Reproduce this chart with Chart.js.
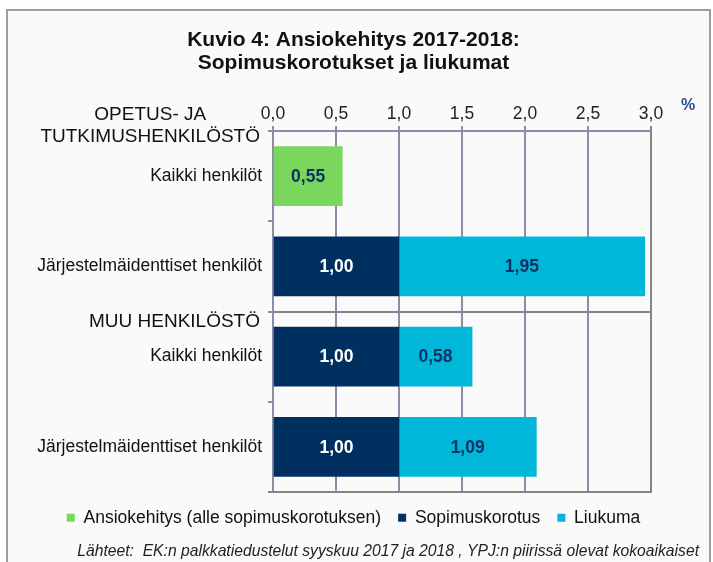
<!DOCTYPE html>
<html>
<head>
<meta charset="utf-8">
<script src="https://cdn.jsdelivr.net/npm/chart.js@4.4.0/dist/chart.umd.min.js"></script>
<style>
  html, body { margin: 0; padding: 0; background: #fff; }
  #wrap { width: 713px; height: 562px; }
</style>
</head>
<body>
<div id="wrap"><canvas id="ansioChart" width="713" height="562"></canvas></div>
<script>
// Data
const categories = ['Kaikki henkilöt', 'Järjestelmäidenttiset henkilöt', 'Kaikki henkilöt', 'Järjestelmäidenttiset henkilöt'];
const groupLabels = [['OPETUS- JA', 'TUTKIMUSHENKILÖSTÖ'], ['MUU HENKILÖSTÖ']];
const groupStarts = [0, 2];
const ansiokehitys = [0.55, null, null, null];
const sopimuskorotus = [null, 1.00, 1.00, 1.00];
const liukuma = [null, 1.95, 0.58, 1.09];
const seriesNames = ['Ansiokehitys (alle sopimuskorotuksen)', 'Sopimuskorotus', 'Liukuma'];
const xTicks = [0, 0.5, 1.0, 1.5, 2.0, 2.5, 3.0];
const unitLabel = '%';
const chartTitle = ['Kuvio 4: Ansiokehitys 2017-2018:', 'Sopimuskorotukset ja liukumat'];
const sourceText = 'Lähteet:  EK:n palkkatiedustelut syyskuu 2017 ja 2018 , YPJ:n piirissä olevat kokoaikaiset';

const FONT = "'Liberation Sans', Arial, sans-serif";
const GRID = '#8a8ea4';
const DARK = '#858585';
const fmt = v => v.toFixed(2).replace('.', ',');

// Frame, group headers, % sign, bottom rule and value labels
const decorations = {
    id: 'decorations',
    beforeDraw(chart) {
        const ctx = chart.ctx;
        ctx.save();
        ctx.fillStyle = '#ffffff';
        ctx.fillRect(0, 0, chart.width, chart.height);
        ctx.fillStyle = '#fafafa';
        ctx.fillRect(7, 10, 703, 560);
        ctx.strokeStyle = '#9c9caa';
        ctx.lineWidth = 2;
        ctx.strokeRect(7, 10, 703, 560);
        ctx.restore();
    },
    afterDraw(chart) {
        const ctx = chart.ctx;
        const y = chart.scales.y;
        const x = chart.scales.x;
        const band = (y.bottom - y.top) / categories.length;
        ctx.save();

        // bottom rule of the plot
        ctx.strokeStyle = DARK;
        ctx.lineWidth = 2;
        ctx.beginPath();
        ctx.moveTo(x.left - 5, y.bottom);
        ctx.lineTo(x.right + 1, y.bottom);
        ctx.stroke();

        ctx.fillStyle = '#111';
        ctx.font = '19px ' + FONT;
        ctx.textBaseline = 'middle';
        groupLabels.forEach((lines, g) => {
            const edge = y.getPixelForValue(groupStarts[g]) - band / 2;
            const widest = Math.max(...lines.map(l => ctx.measureText(l).width));
            const cx = 260 - widest / 2;
            ctx.textAlign = 'center';
            const first = lines.length > 1 ? edge - 16 : edge + 10;
            lines.forEach((l, i) => ctx.fillText(l, cx, first + i * 22));
        });

        ctx.font = 'bold 16px ' + FONT;
        ctx.fillStyle = '#24508c';
        ctx.textAlign = 'center';
        ctx.fillText(unitLabel, x.right + 37, x.top + 31);

        ctx.font = 'bold 17.5px ' + FONT;
        chart.data.datasets.forEach((ds, di) => {
            const meta = chart.getDatasetMeta(di);
            meta.data.forEach((bar, i) => {
                const v = ds.data[i];
                if (v === null || v === undefined) return;
                const p = bar.getCenterPoint();
                ctx.fillStyle = di === 1 ? '#ffffff' : '#0d3263';
                ctx.fillText(fmt(v), p.x, p.y + 1);
            });
        });
        ctx.restore();
    }
};

const config = {
    type: 'bar',
    data: {
        labels: categories,
        datasets: [
            { label: seriesNames[0], data: ansiokehitys, backgroundColor: '#7ad65c' },
            { label: seriesNames[1], data: sopimuskorotus, backgroundColor: '#00305f' },
            { label: seriesNames[2], data: liukuma, backgroundColor: '#00b7d9' }
        ]
    },
    options: {
        indexAxis: 'y',
        responsive: false,
        animation: false,
        devicePixelRatio: 1,
        datasets: { bar: { barThickness: 59, borderWidth: 0 } },
        layout: { padding: { left: 8, right: 14, top: 0, bottom: 0 } },
        scales: {
            x: {
                position: 'top',
                stacked: true,
                min: 0,
                max: 3,
                afterBuildTicks: s => { s.ticks = xTicks.map(v => ({ value: v })); },
                afterFit: s => { s.height = 56.3; },
                ticks: {
                    callback: v => v.toFixed(1).replace('.', ','),
                    font: { family: FONT, size: 17.5 },
                    color: '#222',
                    padding: 1,
                    maxRotation: 0
                },
                grid: {
                    color: c => c.index === xTicks.length - 1 ? DARK : GRID,
                    lineWidth: 2,
                    tickLength: 5
                },
                border: { display: true, color: GRID, width: 2 }
            },
            y: {
                stacked: true,
                afterFit: s => { s.width = 265; },
                ticks: {
                    font: { family: FONT, size: 17.5 },
                    color: '#111',
                    padding: 6
                },
                grid: {
                    offset: true,
                    tickLength: 5,
                    lineWidth: 2,
                    tickColor: GRID,
                    color: c => c.index === 2 ? DARK : 'rgba(0,0,0,0)'
                },
                border: { display: true, color: GRID, width: 2 }
            },
            pad: {
                type: 'linear',
                position: 'right',
                display: true,
                ticks: { display: false },
                grid: { display: false },
                border: { display: false },
                afterFit: s => { s.width = 48; }
            }
        },
        plugins: {
            title: {
                display: true,
                text: chartTitle,
                color: '#111',
                font: { family: FONT, size: 21, weight: 'bold', lineHeight: 1.1 },
                padding: { top: 28.5, bottom: 0 }
            },
            subtitle: {
                display: true,
                position: 'bottom',
                align: 'end',
                text: sourceText,
                color: '#222',
                font: { family: FONT, size: 15.7, style: 'italic', lineHeight: 1.2 },
                padding: { top: 6, bottom: 0.66 }
            },
            legend: {
                position: 'bottom',
                labels: {
                    boxWidth: 8,
                    boxHeight: 8,
                    padding: 17,
                    color: '#111',
                    font: { family: FONT, size: 17.5 }
                }
            },
            tooltip: { enabled: false }
        }
    },
    plugins: [decorations]
};

const ansioChart = new Chart(document.getElementById('ansioChart'), config);
</script>
</body>
</html>
